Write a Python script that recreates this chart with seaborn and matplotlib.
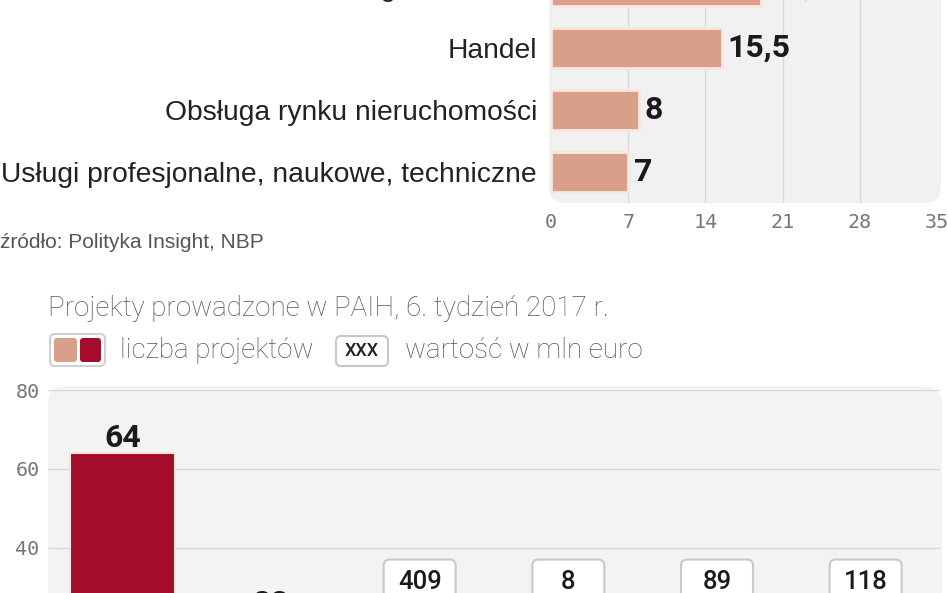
import matplotlib
matplotlib.use("Agg")
import matplotlib.pyplot as plt
from matplotlib.patches import FancyBboxPatch
from matplotlib.transforms import IdentityTransform
import seaborn as sns
import pandas as pd

# top panel: sector shares
sectors = ["Usługi finansowe", "Handel", "Obsługa rynku nieruchomości",
           "Usługi profesjonalne, naukowe, techniczne"]
shares = [19.0, 15.5, 8, 7]
share_labels = ["19,0", "15,5", "8", "7"]
share_ticks = [0, 7, 14, 21, 28, 35]

# bottom panel: PAIH projects
project_groups = ["A", "B", "C", "D", "E", "F"]
project_counts = [64, 22, 14, 3, 9, 12]
project_values = [None, None, "409", "8", "89", "118"]
count_ticks = [40, 60, 80]

SALMON = "#DA9F89"
DARKRED = "#A30D2B"
W, H = 948, 593
NUM_FONT = ["Roboto", "DejaVu Sans"]
LIGHT_FONT = ["Roboto", "DejaVu Sans"]

sns.set_theme(style="white")
plt.rcParams["font.family"] = ["Liberation Sans", "DejaVu Sans"]

fig = plt.figure(figsize=(W / 100, H / 100), dpi=100)
fig.patch.set_facecolor("white")


def fx(x):
    return x / W


def fy(y):
    return 1 - y / H


def rbox(x0, y0, x1, y1, fc, ec="none", lw=0, r=10, z=-1):
    # rectangle given in image pixels (y downwards), drawn in display coords
    p = FancyBboxPatch((x0, H - y1), x1 - x0, y1 - y0,
                       boxstyle=f"round,pad=0,rounding_size={r}",
                       fc=fc, ec=ec, lw=lw, transform=IdentityTransform(),
                       zorder=z)
    fig.add_artist(p)
    return p


# ---------- top panel ----------
rbox(549, -60, 941, 203, "#F1F1F1", r=16)
ax1 = fig.add_axes([fx(551), fy(203), fx(937 - 551), (203 + 45) / H])
ax1.set_facecolor("none")
df1 = pd.DataFrame({"sector": sectors, "share": shares})
sns.barplot(data=df1, y="sector", x="share", orient="h", color=SALMON,
            saturation=1, width=0.66, edgecolor="#F7E7DF", linewidth=2,
            ax=ax1, zorder=3)
ax1.set_xlim(0, 35)
ax1.set_ylim(3.5, -0.5)
ax1.set_xticks(share_ticks)
ax1.set_xticklabels(share_ticks, family="DejaVu Sans Mono", fontsize=14.5,
                    color="#777777")
ax1.tick_params(axis="x", length=0, pad=7)
ax1.tick_params(axis="y", length=0, pad=10)
for lab in ax1.get_yticklabels():
    lab.set_fontsize(20.3)
    lab.set_color("#222222")
for t in share_ticks[1:-1]:
    ax1.axvline(t, color="#D8D8D8", lw=1, zorder=1)
ax1.set_xlabel("")
ax1.set_ylabel("")
for s in ax1.spines.values():
    s.set_visible(False)
for i, (v, lab) in enumerate(zip(shares, share_labels)):
    ax1.annotate(lab, (v, i), xytext=(4, 0), textcoords="offset points",
                 ha="left", va="center", fontsize=23, fontweight="bold",
                 family=NUM_FONT, color="#1A1A1A")

fig.text(0, fy(243), "źródło: Polityka Insight, NBP", fontsize=15,
         color="#555555", va="center", ha="left")

# ---------- bottom panel header ----------
fig.text(fx(48), fy(308), "Projekty prowadzone w PAIH, 6. tydzień 2017 r.",
         fontsize=20, color="#555555", va="center", ha="left",
         family=LIGHT_FONT, fontweight="light")
rbox(50, 334, 105, 366, "white", ec="#D0D0D0", lw=1.5, r=5, z=2)
rbox(54, 338, 77, 362, SALMON, r=3, z=3)
rbox(80, 338, 101, 362, DARKRED, r=3, z=3)
fig.text(fx(120), fy(351), "liczba projektów", fontsize=20, color="#555555",
         va="center", ha="left", family=LIGHT_FONT, fontweight="light")
rbox(336, 336, 388, 366, "white", ec="#C8C8C8", lw=1.5, r=5, z=2)
fig.text(fx(362), fy(351), "XXX", fontsize=13, color="#222222", va="center",
         ha="center", family=NUM_FONT, fontweight="medium")
fig.text(fx(405), fy(351), "wartość w mln euro", fontsize=20,
         color="#555555", va="center", ha="left", family=LIGHT_FONT,
         fontweight="light")

# ---------- bottom panel ----------
rbox(48, 386, 942, 760, "#F3F3F3", r=18)
ax2 = fig.add_axes([fx(48), fy(705), fx(940 - 48), (705 - 390) / H])
ax2.set_facecolor("none")
df2 = pd.DataFrame({"group": project_groups, "count": project_counts})
sns.barplot(data=df2, x="group", y="count", hue="group",
            palette=[DARKRED] + [SALMON] * 5, saturation=1, legend=False,
            width=0.71, edgecolor="#F7E7DF", linewidth=1.5, ax=ax2, zorder=3)
ax2.set_ylim(0, 80)
ax2.set_xlim(-0.5, 5.5)
ax2.set_yticks(count_ticks)
ax2.set_yticklabels(count_ticks, family="DejaVu Sans Mono", fontsize=14.5,
                    color="#777777")
ax2.tick_params(axis="y", length=0, pad=6)
ax2.set_xticks([])
ax2.set_xlabel("")
ax2.set_ylabel("")
for t in count_ticks:
    ax2.axhline(t, color="#D8D8D8", lw=1, zorder=1)
for s in ax2.spines.values():
    s.set_visible(False)
for i, c in enumerate(project_counts):
    ax2.annotate(str(c), (i, c), xytext=(0, 4), textcoords="offset points",
                 ha="center", va="baseline", fontsize=23, fontweight="bold",
                 family=NUM_FONT, color="#1A1A1A")

# value boxes: fixed width, rounded corners corrected for axis aspect
px_x = (940 - 48) / 6.0
px_y = (705 - 390) / 80.0
box_w = 72 / px_x
box_h = 42 / px_y
box_mid = 31.0
for i, v in enumerate(project_values):
    if v is None:
        continue
    box = FancyBboxPatch((i - box_w / 2, box_mid - box_h / 2 + 0.6), box_w, box_h,
                         boxstyle=f"round,pad=0,rounding_size={6 / px_x}",
                         mutation_aspect=px_x / px_y, fc="white",
                         ec="#C8C8C8", lw=1.5, zorder=5)
    ax2.add_patch(box)
    ax2.text(i, box_mid + 0.3, v, ha="center", va="center", fontsize=18.5,
             family=NUM_FONT, fontweight="medium", color="#1A1A1A", zorder=6)

fig.savefig("out.png", dpi=100)
